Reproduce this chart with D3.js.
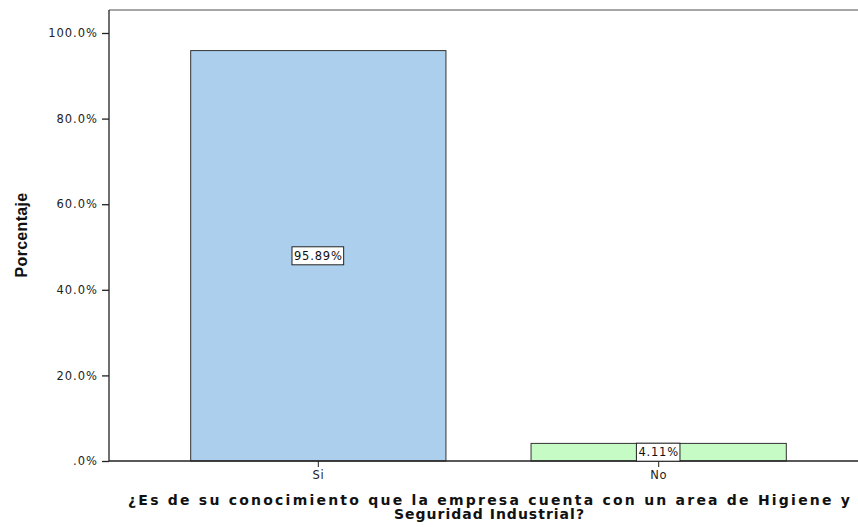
<!DOCTYPE html>
<html>
<head>
<meta charset="utf-8">
<script src="https://cdn.jsdelivr.net/npm/d3@7"></script>
<style>
  body { margin: 0; background: #fff; }
  svg { display: block; }
</style>
</head>
<body>
<div class="visHolder"></div>
<script>
// data
var categories = ["Si", "No"];
var values = [95.89, 4.11];
var barColors = ["#abcfec", "#c6fbc6"];
var yTicks = [0, 20, 40, 60, 80, 100];
var xTitleLines = ["¿Es de su conocimiento que la empresa cuenta con un area de Higiene y", "Seguridad Industrial?"];

var W = 858, H = 527;
var plotLeft = 109, plotTop = 10, plotBottom = 461;
var tickFont = "DejaVu Sans, Verdana, sans-serif";

var svg = d3.select(".visHolder")
    .append("svg")
    .attr("width", W)
    .attr("height", H);

var x = d3.scaleBand()
    .domain(categories)
    .range([plotLeft, 868])
    .paddingInner(0.25)
    .paddingOuter(0.24);

var y = d3.scaleLinear()
    .domain([0, 100])
    .range([plotBottom, 33]);

// frame top line
svg.append("line")
    .attr("x1", plotLeft).attr("x2", W)
    .attr("y1", plotTop).attr("y2", plotTop)
    .style("stroke", "#888").style("stroke-width", 1.5);

// bars
svg.selectAll(".bar")
    .data(values)
    .enter()
    .append("rect")
    .attr("class", "bar")
    .attr("x", (d, i) => x(categories[i]))
    .attr("y", (d) => y(d))
    .attr("width", x.bandwidth())
    .attr("height", (d) => y(0) - y(d))
    .style("fill", (d, i) => barColors[i])
    .style("stroke", "#333")
    .style("stroke-width", 1);

// y axis
var yAxis = svg.append("g")
    .attr("transform", "translate(" + plotLeft + ",0)")
    .call(d3.axisLeft(y)
        .tickValues(yTicks)
        .tickSize(7)
        .tickPadding(4)
        .tickFormat((d) => d === 0 ? ".0%" : d.toFixed(1) + "%"));
yAxis.select(".domain").attr("d", "M0," + plotTop + "V" + plotBottom).style("stroke", "#222").style("stroke-width", 1.3);
yAxis.selectAll(".tick line").style("stroke", "#222").style("stroke-width", 1.3);
yAxis.selectAll("text")
    .style("font-family", tickFont)
    .style("font-size", "11.5px")
    .style("letter-spacing", "1px")
    .style("fill", "#222");

// x axis
var xAxis = svg.append("g")
    .attr("transform", "translate(0," + plotBottom + ")")
    .call(d3.axisBottom(x).tickSize(6).tickPadding(4));
xAxis.select(".domain").attr("d", "M" + plotLeft + ",0H" + W).style("stroke", "#222").style("stroke-width", 1.3);
xAxis.selectAll(".tick line").style("stroke", "#222");
xAxis.selectAll("text")
    .style("font-family", tickFont)
    .style("font-size", "11.5px")
    .style("letter-spacing", "0.6px")
    .style("fill", "#222");

// value labels in boxes
var labels = svg.selectAll(".lbl")
    .data(values)
    .enter()
    .append("g")
    .attr("class", "lbl")
    .attr("transform", (d, i) => "translate(" + (x(categories[i]) + x.bandwidth() / 2) + "," + ((y(d) + y(0)) / 2) + ")");

labels.append("text")
    .attr("text-anchor", "middle")
    .attr("dy", "0.36em")
    .style("font-family", tickFont)
    .style("font-size", "11.5px")
    .style("letter-spacing", "0.8px")
    .style("fill", "#111")
    .text((d) => d.toFixed(2) + "%");

labels.each(function() {
    var g = d3.select(this);
    var b = g.select("text").node().getBBox();
    g.insert("rect", "text")
        .attr("x", b.x - 2)
        .attr("y", -9)
        .attr("width", b.width + 3)
        .attr("height", 18)
        .style("fill", "#fff")
        .style("stroke", "#222")
        .style("stroke-width", 1);
});

// axis titles
svg.append("text")
    .attr("transform", "translate(27,235) rotate(-90)")
    .attr("text-anchor", "middle")
    .style("font-family", "Liberation Sans Narrow, Arial Narrow, sans-serif")
    .style("font-weight", "bold")
    .style("font-size", "16px")
    .style("letter-spacing", "0.3px")
    .style("fill", "#111")
    .text("Porcentaje");

var xTitle = svg.append("text")
    .attr("text-anchor", "middle")
    .style("font-family", "DejaVu Sans, Verdana, sans-serif")
    .style("font-weight", "bold")
    .style("font-size", "14px")
    .style("fill", "#111");
xTitle.append("tspan").attr("x", 489).attr("y", 505)
    .attr("textLength", 722).attr("lengthAdjust", "spacing")
    .text(xTitleLines[0]);
xTitle.append("tspan").attr("x", 489).attr("y", 519)
    .attr("textLength", 190).attr("lengthAdjust", "spacing")
    .text(xTitleLines[1]);
</script>
</body>
</html>
